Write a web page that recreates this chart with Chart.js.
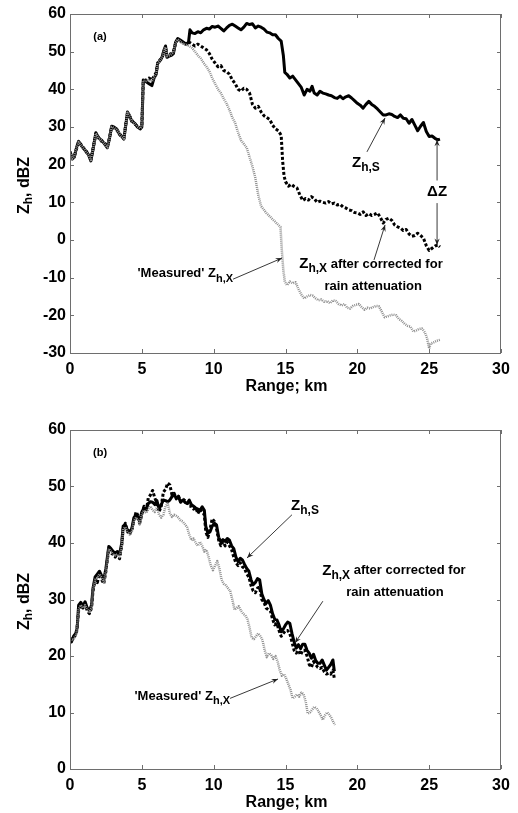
<!DOCTYPE html>
<html>
<head>
<meta charset="utf-8">
<script src="https://cdn.jsdelivr.net/npm/chart.js@4.4.1/dist/chart.umd.min.js"></script>
<style>
  body { margin: 0; background: #fff; }
  #wrapA { position: absolute; left: 0; top: 0; }
  #wrapB { position: absolute; left: 0; top: 410px; }
</style>
</head>
<body>
<div id="wrapA"><canvas id="chartA" width="518" height="410"></canvas></div>
<div id="wrapB"><canvas id="chartB" width="518" height="403"></canvas></div>
<script>
// ---- panel (a) ----
const rangeSA = [0,0.15,0.3,0.45,0.6,0.8,1.0,1.15,1.3,1.45,1.6,1.8,2.0,2.2,2.4,2.6,2.75,2.9,3.05,3.25,3.45,3.6,3.75,3.9,4.0,4.15,4.3,4.5,4.7,4.9,5.0,5.05,5.1,5.3,5.5,5.7,5.85,6.0,6.1,6.25,6.4,6.55,6.65,6.75,6.9,7.05,7.2,7.35,7.5,7.7,7.9,8.1,8.25,8.35,8.5,8.7,8.9,9.1,9.3,9.5,9.7,9.9,10.1,10.3,10.5,10.7,10.9,11.1,11.3,11.5,11.7,11.9,12.1,12.3,12.5,12.7,12.9,13.1,13.3,13.5,13.7,13.9,14.1,14.3,14.5,14.7,14.85,14.95,15.1,15.3,15.5,15.7,15.9,16.1,16.3,16.5,16.7,16.85,17.0,17.2,17.4,17.6,17.8,18.0,18.2,18.4,18.6,18.8,19.0,19.2,19.4,19.6,19.8,20.0,20.2,20.4,20.6,20.8,21.0,21.2,21.4,21.6,21.8,22.0,22.2,22.4,22.6,22.8,23.0,23.2,23.4,23.6,23.8,24.0,24.2,24.4,24.6,24.8,25.0,25.2,25.4,25.6,25.75];
const zhSA = [23.5,21.5,22,24.5,26.2,25,24,23.5,22.5,21,24,28.5,27,26.5,25.5,24.5,27,30.2,30,29.5,28,27.5,26.8,31,34,33,31.5,31,30,29.5,30,36,42.5,42,41.5,41,43,44,47,47.5,48.5,50.5,51.5,48.5,48.8,49,49.5,52.5,53.5,53,52.5,52,52.5,55.8,55,54.8,55.3,55,55.8,56.2,56,56.7,56.5,56.8,56.2,55.5,56.3,57,57.3,56.8,56.3,55.8,56.5,57.5,57.2,57.4,56.3,56.8,56.5,56,55.2,55,54.5,54.5,53.5,52.8,49,44.5,44,43,43.5,42.5,41.5,40.5,38.5,40,39.5,40.8,39,38.5,39.5,39,38.8,38.5,38.3,37.8,37.6,38.2,37.5,38,38.3,37.7,37,36.3,35.8,35,36,36.8,36,35.5,34.8,34,33.2,33.2,33.5,33.3,32.8,32.5,33.2,32.3,32.2,31,32,30.5,29,30.2,31.2,28.8,27.5,27.6,27,26.6,26.8];

const rangeCorrA = [0,0.15,0.3,0.45,0.6,0.8,1.0,1.15,1.3,1.45,1.6,1.8,2.0,2.2,2.4,2.6,2.75,2.9,3.05,3.25,3.45,3.6,3.75,3.9,4.0,4.15,4.3,4.5,4.7,4.9,5.0,5.05,5.1,5.3,5.5,5.7,5.85,6.0,6.1,6.25,6.4,6.55,6.65,6.75,6.9,7.05,7.2,7.35,7.5,7.7,7.9,8.1,8.3,8.5,8.7,8.9,9.1,9.3,9.5,9.7,9.9,10.1,10.3,10.5,10.7,10.9,11.1,11.3,11.5,11.7,11.9,12.1,12.3,12.5,12.7,12.9,13.1,13.3,13.5,13.7,13.9,14.1,14.3,14.5,14.7,14.8,14.9,15.0,15.2,15.4,15.6,15.8,16.0,16.2,16.4,16.6,16.8,17.0,17.2,17.4,17.6,17.8,18.0,18.2,18.4,18.6,18.8,19.0,19.2,19.4,19.6,19.8,20.0,20.2,20.4,20.6,20.8,21.0,21.2,21.4,21.6,21.8,22.0,22.2,22.4,22.6,22.8,23.0,23.2,23.4,23.6,23.8,24.0,24.2,24.4,24.6,24.8,25.0,25.2,25.4,25.6,25.75];
const zhCorrA = [23.3,21.8,22.2,24.2,26,25.2,24.2,23.2,22.8,21.3,24.2,28.2,27.2,26.2,25.8,24.8,27.2,30,29.8,29.2,28.3,27.2,27,31.2,33.6,32.8,31.8,30.8,30.2,29.8,30.2,36.5,42.2,42.5,43,42.5,43.5,44.5,46.8,47.8,48.2,50.2,51,49,49.2,49.5,50,52.2,53.2,52.8,52.2,52,52.5,52,51.5,52,51.5,51,50.5,49.5,48,47,46,46.3,45,44.7,44,42.5,41.5,40,39.5,40.3,40,39,36,35,35.5,34,33,32.5,32,30.5,29.5,29,27.8,21,17,15.5,14.3,14.8,14.2,13.8,12,10.5,11,10.6,11.5,11,10,10.3,10,9.8,10.2,9.6,9.8,9.3,9.5,8.8,8.5,8,7.8,7.3,7.2,6.8,7.5,6.5,7,6.5,6.8,7.2,6,4.5,5.5,5.8,5.2,4,3.5,3.2,2.5,2.8,1.6,1,1.2,1.8,1.2,0.5,-1.5,-2.8,-2.2,-1.6,-1.3,-1.8];

const rangeMeasA = [0,0.15,0.3,0.45,0.6,0.8,1.0,1.15,1.3,1.45,1.6,1.8,2.0,2.2,2.4,2.6,2.75,2.9,3.05,3.25,3.45,3.6,3.75,3.9,4.0,4.15,4.3,4.5,4.7,4.9,5.0,5.05,5.1,5.3,5.5,5.7,5.85,6.0,6.1,6.25,6.4,6.55,6.65,6.75,6.9,7.05,7.2,7.35,7.5,7.7,7.9,8.1,8.3,8.5,8.7,8.9,9.1,9.3,9.5,9.7,9.9,10.1,10.3,10.5,10.7,10.9,11.1,11.3,11.5,11.7,11.9,12.1,12.3,12.5,12.7,12.9,13.1,13.3,13.5,13.7,13.9,14.1,14.3,14.5,14.65,14.75,14.85,14.95,15.1,15.3,15.5,15.7,15.9,16.1,16.3,16.5,16.7,16.9,17.1,17.3,17.5,17.7,17.9,18.1,18.3,18.5,18.7,18.9,19.1,19.3,19.5,19.7,19.9,20.1,20.3,20.5,20.7,20.9,21.1,21.3,21.5,21.7,21.9,22.1,22.3,22.5,22.7,22.9,23.1,23.3,23.5,23.7,23.9,24.1,24.3,24.5,24.7,24.85,25.0,25.1,25.3,25.5,25.75];
const zhMeasA = [23.2,21.6,22,24.3,26,25,24.1,23.3,22.6,21.2,24,28.3,27,26.4,25.6,24.6,27,30,29.8,29.3,28.1,27.4,26.9,31,33.8,32.9,31.6,30.9,30.1,29.6,30.1,36.2,42.3,42.2,42.5,42,43.2,44.2,46.8,47.6,48.3,50.3,51.2,48.8,49,49.3,49.8,52.3,53.3,52.6,52,51.8,51.5,51,50,49,48.2,47,46,44.8,43,41.5,40,39,37.5,36.2,34.5,32.5,31,28.5,26.5,25.5,24.5,22,19.5,16.5,12,9,8,7,6.3,5.5,4.8,4,3.5,-3,-8,-11,-12,-11,-11.5,-11.2,-13,-14.5,-15.5,-15,-14.6,-14.8,-15.5,-16,-15.8,-16.4,-16.2,-16.8,-16,-16.2,-17,-17.4,-17,-18,-18.2,-17.5,-17.2,-17,-17.8,-18.5,-18,-18.2,-17.8,-17.5,-17.6,-19,-20.5,-20.3,-20,-19.8,-20,-21,-21.5,-22.3,-22.8,-23,-24.3,-24,-23.6,-23.5,-24.5,-26,-28.8,-27.5,-27.2,-26.8,-26.5];

// ---- panel (b) ----
const rangeSB = [0,0.1,0.25,0.4,0.5,0.6,0.75,0.9,1.05,1.2,1.35,1.5,1.6,1.75,1.9,2.05,2.2,2.35,2.5,2.6,2.7,2.85,3.0,3.15,3.3,3.45,3.6,3.7,3.85,4.0,4.15,4.3,4.45,4.6,4.75,4.85,5.0,5.15,5.3,5.45,5.6,5.75,5.9,6.05,6.2,6.35,6.5,6.65,6.8,6.95,7.1,7.25,7.4,7.55,7.7,7.85,8.0,8.15,8.3,8.45,8.6,8.75,8.9,9.05,9.2,9.35,9.45,9.6,9.75,9.9,10.05,10.2,10.35,10.5,10.65,10.8,10.95,11.1,11.25,11.4,11.55,11.7,11.85,12.0,12.15,12.3,12.45,12.6,12.75,12.9,13.05,13.2,13.35,13.5,13.65,13.8,13.95,14.1,14.25,14.4,14.55,14.7,14.85,15.0,15.15,15.3,15.45,15.6,15.75,15.9,16.05,16.2,16.35,16.5,16.65,16.8,16.95,17.1,17.25,17.4,17.55,17.7,17.85,18.0,18.15,18.3,18.4];
const zhSB = [23,22.5,23.5,24,25,29,29.5,28.8,29.6,28.5,28,29,32,34,34.5,35,34.2,33.5,35.5,37.5,39.4,39,38.5,38.2,38.5,38,40,43,43.2,42.3,42,42.5,44.5,45,44.5,43.8,45.5,46.2,46,47,47.3,47.2,46.8,47.5,46,46.8,47.6,47.5,47.3,47.6,48.2,48.5,48,48.2,47.2,47.6,47.2,47,47.6,46.8,46.5,46.2,46,45.8,46.4,45.8,43,41.7,42,43,43.5,43.2,41,40.2,40.6,40.3,40.8,40.5,39.5,39,37.5,36.7,37.3,37,36.2,35.5,35,33.5,32.6,33,33.7,33.5,31,30,29.3,29.8,29,27.5,26.5,26.4,25.5,24.3,24.8,25.5,26,25.8,24,22.5,21.4,22,21.3,22.1,22.1,21,20.5,19.6,20.3,19.2,18.7,18.7,19.3,18.4,17.5,18,18.5,19.3,17.3];

const rangeCorrB = [0,0.2,0.45,0.6,0.75,0.9,1.05,1.2,1.35,1.5,1.6,1.75,1.9,2.05,2.2,2.35,2.5,2.6,2.7,2.85,3.0,3.15,3.3,3.45,3.6,3.7,3.85,4.0,4.15,4.3,4.45,4.6,4.75,4.85,5.0,5.15,5.3,5.45,5.6,5.75,5.9,6.05,6.2,6.35,6.5,6.65,6.8,6.95,7.1,7.25,7.4,7.55,7.7,7.85,8.0,8.15,8.3,8.45,8.6,8.75,8.9,9.05,9.2,9.35,9.45,9.6,9.75,9.9,10.05,10.2,10.35,10.5,10.65,10.8,10.95,11.1,11.25,11.4,11.55,11.7,11.85,12.0,12.15,12.3,12.45,12.6,12.75,12.9,13.05,13.2,13.35,13.5,13.65,13.8,13.95,14.1,14.25,14.4,14.55,14.7,14.85,15.0,15.15,15.3,15.45,15.6,15.75,15.9,16.05,16.2,16.35,16.5,16.65,16.8,16.95,17.1,17.25,17.4,17.55,17.7,17.85,18.0,18.15,18.3,18.4];
const zhCorrB = [23,23,24,28,29,28.5,29.2,28,27.5,28.5,31.5,33.5,33,34.5,33.5,32.8,35,37,39,38.2,38,37.5,38.2,37.2,39.5,42.5,43.5,42,41.5,42.3,44,45.5,44.8,43.5,45,46.5,45.5,48,48.5,49.3,48,47,45.5,46.5,49,49.5,50.6,50.3,48.5,48.8,47.8,48.3,47.3,47.8,47.5,47.2,46.5,46.5,46,46.3,45.2,46,45.5,45,42,41,42.5,44.3,43.8,42.5,40.5,39.5,40.2,39.5,40.2,39.5,38.8,37.5,36.5,36,36.5,35.8,35.5,34.5,34,32.5,31.5,31.2,32,32.2,30,29.5,28.5,28.2,28,26.5,25.5,25.8,24.5,23.5,24,24.5,24.5,24,22.5,21,20.5,21,20.2,21,21,20,18.5,18,19,18.5,18,17.8,18,17.2,16.8,17,16.8,17.5,16];

const rangeMeasB = [0,0.2,0.45,0.6,0.75,0.9,1.05,1.2,1.35,1.5,1.6,1.75,1.9,2.05,2.2,2.35,2.5,2.6,2.7,2.85,3.0,3.15,3.3,3.45,3.6,3.7,3.85,4.0,4.15,4.3,4.45,4.6,4.75,4.85,5.0,5.15,5.3,5.45,5.6,5.75,5.9,6.05,6.2,6.35,6.5,6.65,6.8,6.95,7.1,7.25,7.4,7.55,7.7,7.85,8.0,8.15,8.3,8.45,8.6,8.75,8.9,9.05,9.2,9.35,9.5,9.65,9.8,9.95,10.1,10.25,10.4,10.55,10.7,10.85,11.0,11.15,11.3,11.45,11.6,11.75,11.9,12.05,12.2,12.35,12.5,12.65,12.8,12.95,13.1,13.25,13.4,13.55,13.7,13.85,14.0,14.15,14.3,14.45,14.6,14.75,14.9,15.05,15.2,15.35,15.5,15.65,15.8,15.95,16.1,16.25,16.4,16.55,16.7,16.85,17.0,17.15,17.3,17.45,17.6,17.75,17.9,18.05,18.2,18.35,18.45];
const zhMeasB = [23,22.8,23.8,28.2,29,28.5,29,28.2,27.8,28.5,31.8,33.5,33.8,34.5,33.8,33,35,37,39,38.5,38,37.8,38,37.5,39.5,42.5,42.8,42,41.5,42,44,44.5,44,43.3,45,45.8,45.3,46,46.5,45.8,45.5,46.3,45,44.5,45,46.5,47,45.3,44.6,45,44.8,44.5,44,43.8,43.3,42.8,41.5,40.5,40.8,40,39.5,40.2,39.5,38.5,38.8,37.5,36,35.2,36,36.8,35.5,33.5,32.8,32.5,32,31.5,30,28.2,28.5,28.8,28,27.5,27.2,26.5,25,23.2,23,23.5,24,23.5,22.8,21,19.8,20.5,20.2,19.5,20,19,17.5,16.5,16.8,16,15,14,12.5,12.8,13.2,12.8,13.5,13.3,12,9.8,10,10.5,11,10.8,10.2,9.5,8.7,9.5,10,9.6,9,8.2,7.8];

const xTicks = [0, 5, 10, 15, 20, 25, 30];
const yTicksA = [-30, -20, -10, 0, 10, 20, 30, 40, 50, 60];
const yTicksB = [0, 10, 20, 30, 40, 50, 60];

const FONT = "Arial, 'Liberation Sans', sans-serif";
const BOX = "#6e6e6e";

function pts(xs, ys) {
  return xs.map((x, i) => ({ x: x, y: ys[i] }));
}

// text with a subscript part, drawn left-aligned from x
function subText(ctx, x, y, parts) {
  let cx = x;
  parts.forEach(p => {
    ctx.font = "bold " + p.size + "px " + FONT;
    ctx.fillText(p.t, cx, y + (p.dy || 0));
    cx += ctx.measureText(p.t).width;
  });
  return cx - x;
}
function subWidth(ctx, parts) {
  let w = 0;
  parts.forEach(p => {
    ctx.font = "bold " + p.size + "px " + FONT;
    w += ctx.measureText(p.t).width;
  });
  return w;
}

function arrow(ctx, x1, y1, x2, y2) {
  ctx.save();
  ctx.strokeStyle = "#222";
  ctx.fillStyle = "#222";
  ctx.lineWidth = 0.9;
  ctx.beginPath();
  ctx.moveTo(x1, y1);
  ctx.lineTo(x2, y2);
  ctx.stroke();
  const a = Math.atan2(y2 - y1, x2 - x1);
  const L = 7, W = 0.38;
  ctx.beginPath();
  ctx.moveTo(x2, y2);
  ctx.lineTo(x2 - L * Math.cos(a - W), y2 - L * Math.sin(a - W));
  ctx.lineTo(x2 - L * 0.6 * Math.cos(a), y2 - L * 0.6 * Math.sin(a));
  ctx.lineTo(x2 - L * Math.cos(a + W), y2 - L * Math.sin(a + W));
  ctx.closePath();
  ctx.fill();
  ctx.restore();
}

// MATLAB-like frame: box + inward ticks + axis titles + notes
const framePlugin = {
  id: "frame",
  afterDraw(chart, args, opts) {
    const ctx = chart.ctx;
    const a = chart.chartArea;
    const xs = chart.scales.x, ys = chart.scales.y;
    ctx.save();
    ctx.strokeStyle = BOX;
    ctx.lineWidth = 1;
    ctx.strokeRect(a.left + 0.5, a.top + 0.5, a.right - a.left - 1, a.bottom - a.top);
    ctx.beginPath();
    xTicks.forEach(v => {
      const px = Math.round(xs.getPixelForValue(v)) + 0.5;
      ctx.moveTo(px, a.bottom); ctx.lineTo(px, a.bottom - 4);
      ctx.moveTo(px, a.top); ctx.lineTo(px, a.top + 4);
    });
    opts.yTicks.forEach(v => {
      const py = Math.round(ys.getPixelForValue(v)) + 0.5;
      ctx.moveTo(a.left, py); ctx.lineTo(a.left + 4, py);
      ctx.moveTo(a.right, py); ctx.lineTo(a.right - 4, py);
    });
    ctx.stroke();

    ctx.fillStyle = "#000";
    ctx.textBaseline = "middle";
    // x title
    ctx.font = "bold 16px " + FONT;
    ctx.textAlign = "center";
    ctx.fillText("Range; km", (a.left + a.right) / 2 + 1, a.bottom + 34);
    // y title (rotated)
    ctx.save();
    ctx.translate(25, (a.top + a.bottom) / 2 + 2);
    ctx.rotate(-Math.PI / 2);
    ctx.textAlign = "left";
    const yt = [{ t: "Z", size: 16 }, { t: "h", size: 12, dy: 4 }, { t: ", dBZ", size: 16 }];
    subText(ctx, -subWidth(ctx, yt) / 2, 0, yt);
    ctx.restore();

    // notes
    ctx.textAlign = "left";
    opts.notes.forEach(n => {
      const px = xs.getPixelForValue(n.x), py = ys.getPixelForValue(n.y);
      const w = subWidth(ctx, n.parts);
      let x0 = px - w / 2;
      if (n.align === "right") x0 = px - w;
      subText(ctx, x0, py, n.parts);
    });
    opts.arrows.forEach(r => {
      arrow(ctx, xs.getPixelForValue(r[0]), ys.getPixelForValue(r[1]),
        xs.getPixelForValue(r[2]), ys.getPixelForValue(r[3]));
    });
    ctx.restore();
  }
};

function zLabel(sub) {
  return [{ t: "Z", size: 15 }, { t: sub, size: 12, dy: 5 }];
}

function makeChart(id, s, c, m, yMin, yTicks, h, padTop, notes, arrows) {
  const bottom = padTop + 339;
  return new Chart(document.getElementById(id), {
    type: "line",
    data: {
      datasets: [
        { data: m, borderColor: "#8f8f8f", borderWidth: 2.5, borderDash: [1, 1] },
        { data: c, borderColor: "#000", borderWidth: 3, borderDash: [3, 2] },
        { data: s, borderColor: "#000", borderWidth: 3 }
      ]
    },
    options: {
      responsive: false,
      animation: false,
      elements: { point: { radius: 0 }, line: { tension: 0, borderJoinStyle: "round" } },
      layout: { padding: { left: 0, right: 17, top: padTop, bottom: 0 } },
      plugins: {
        legend: { display: false },
        tooltip: { enabled: false },
        frame: { yTicks: yTicks, notes: notes, arrows: arrows }
      },
      scales: {
        x: {
          type: "linear", min: 0, max: 30,
          afterBuildTicks: ax => { ax.ticks = xTicks.map(v => ({ value: v })); },
          afterFit: ax => { ax.height = h - bottom; },
          grid: { display: false, drawTicks: false },
          border: { display: false },
          ticks: { color: "#000", padding: 7, maxRotation: 0, font: { family: FONT, size: 16, weight: "bold" } }
        },
        y: {
          type: "linear", min: yMin, max: 60,
          afterBuildTicks: ax => { ax.ticks = yTicks.map(v => ({ value: v })); },
          afterFit: ax => { ax.width = 70; },
          grid: { display: false, drawTicks: false },
          border: { display: false },
          ticks: { color: "#000", padding: 4, font: { family: FONT, size: 16, weight: "bold" } }
        }
      }
    },
    plugins: [framePlugin]
  });
}

const notesA = [
  { x: 2.09, y: 53.9, parts: [{ t: "(a)", size: 11 }] },
  { x: 20.6, y: 20.6, parts: zLabel("h,S") },
  { x: 25.55, y: 12.8, parts: [{ t: "\u0394Z", size: 15 }] },
  { x: 20.95, y: -6.4, parts: zLabel("h,X").concat([{ t: " after corrected for", size: 13 }]) },
  { x: 21.1, y: -12.3, parts: [{ t: "rain attenuation", size: 13 }] },
  { x: 11.35, y: -9.0, align: "right", parts: [{ t: "'Measured' Z", size: 13 }, { t: "h,X", size: 11, dy: 5 }] }
];
const arrowsA = [
  [20.67, 23.4, 21.93, 32.4],
  [25.55, 15.8, 25.55, 26.6],
  [25.55, 9.8, 25.55, -1.3],
  [21.16, -5.3, 21.93, 4.0],
  [11.35, -10.4, 14.76, -4.8]
];
const notesB = [
  { x: 2.09, y: 55.9, parts: [{ t: "(b)", size: 11 }] },
  { x: 16.36, y: 46.6, parts: zLabel("h,S") },
  { x: 22.55, y: 35.1, parts: zLabel("h,X").concat([{ t: " after corrected for", size: 13 }]) },
  { x: 22.62, y: 31.2, parts: [{ t: "rain attenuation", size: 13 }] },
  { x: 11.14, y: 12.9, align: "right", parts: [{ t: "'Measured' Z", size: 13 }, { t: "h,X", size: 11, dy: 5 }] }
];
const arrowsB = [
  [15.45, 45.0, 12.32, 37.35],
  [17.6, 29.7, 15.66, 22.3],
  [11.14, 12.5, 14.48, 15.93]
];

makeChart("chartA", pts(rangeSA, zhSA), pts(rangeCorrA, zhCorrA), pts(rangeMeasA, zhMeasA),
  -30, yTicksA, 410, 14, notesA, arrowsA);
makeChart("chartB", pts(rangeSB, zhSB), pts(rangeCorrB, zhCorrB), pts(rangeMeasB, zhMeasB),
  0, yTicksB, 403, 20, notesB, arrowsB);
</script>
</body>
</html>
